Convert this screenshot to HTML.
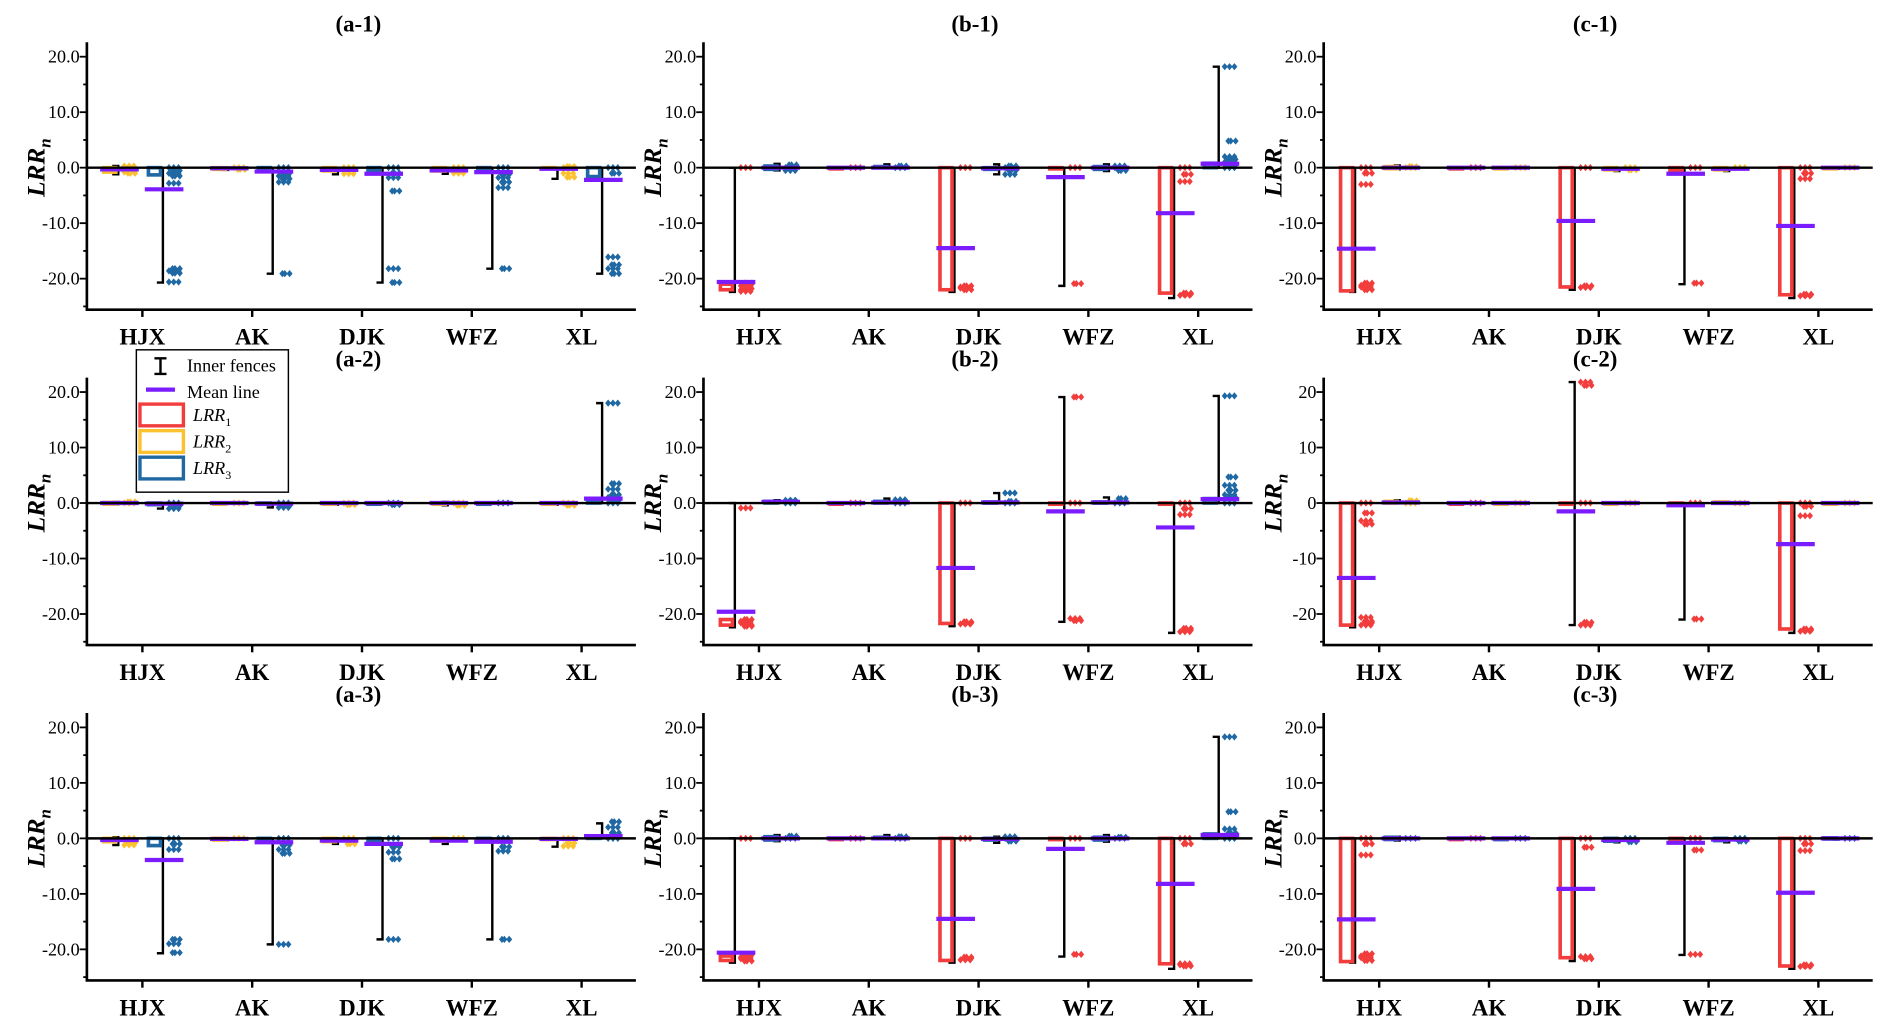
<!DOCTYPE html>
<html><head><meta charset="utf-8"><style>
html,body{margin:0;padding:0;background:#fff;}
svg{display:block;font-family:"Liberation Serif",serif;}
</style></head><body>
<svg id="fig" xmlns="http://www.w3.org/2000/svg" width="1892" height="1035" viewBox="0 0 1568 858" preserveAspectRatio="none"></svg>
<script>
const categories = ["HJX","AK","DJK","WFZ","XL"];
const yTicks = [20,10,0,-10,-20];
const yTickLabels = ["20.0","10.0","0.0","-10.0","-20.0"];
const yTickLabelsInt = ["20","10","0","-10","-20"];
// each entry: [q1, q3, lowerFence, upperFence, mean]
const a1L = [[-0.8,0,-1.2,0.3,-0.3],[-0.3,0,-0.4,0,-0.1],[-0.6,0,-1.2,0,-0.4],[-0.6,0,-1.1,0,-0.5],[-0.2,0,-2.0,0,-0.2]];
const a1R = [[-1.3,0,-20.7,0,-3.9],[-0.5,0,-19.1,0,-0.7],[-0.6,0,-20.7,0,-1.1],[-0.6,0,-18.2,0,-0.8],[-1.6,0,-19.1,0,-2.2]];
const a1Lout = [[0,-0.5,-0.8,-1.0,0.3],[0,-0.3],[0,-0.5,-1.1],[0,-0.7,-1.0],[0,0.2,-1.0,-1.7]];
const a1Rout = [[0,-0.5,-1,-1.5,-2.8,-18.2,-18.6,-19,-20.6],[0,-1,-1.5,-2,-2.6,-19.1],[0,-1,-1.8,-4.2,-18.2,-20.7],[0,-1.2,-1.8,-2.6,-3.6,-18.2],[0,-1,-16.1,-17.5,-18.2,-19.1]];
const a2L = [[-0.2,0.1,-0.2,0.2,0],[-0.1,0,-0.1,0,0],[-0.2,0,-0.3,0,0],[-0.2,0,-0.4,0.2,0],[-0.2,0,-0.3,0,0]];
const a2R = [[-0.3,0,-1,0,-0.1],[-0.2,0,-0.8,0,-0.1],[-0.1,0,-0.2,0,0],[-0.1,0,-0.1,0,0],[0,0.6,0,18,0.8]];
const a2Lout = [[0,0.2],[0],[0,-0.3],[0,-0.4],[0,-0.4]];
const a2Rout = [[0,-0.5,-1],[0,-0.5,-0.8],[0,-0.3],[0],[0,0.5,1,1.5,2.5,3.5,18]];
const a3L = [[-0.6,0,-1.2,0.2,-0.3],[-0.3,0,-0.3,0,-0.1],[-0.6,0,-1,0,-0.4],[-0.5,0,-1,0,-0.4],[-0.2,0,-1.5,0,-0.1]];
const a3R = [[-1.3,0,-20.7,0,-3.9],[-0.6,0,-19.1,0,-0.7],[-0.6,0,-18.2,0,-1],[-0.5,0,-18.2,0,-0.6],[0,0.3,0,2.7,0.4]];
const a3Lout = [[0,-0.8,-1.2],[0],[0,-1],[0],[0,-0.8,-1.4]];
const a3Rout = [[0,-1,-2,-18.2,-19,-20.6],[0,-1.2,-2,-2.7,-19.1],[0,-1.5,-2.5,-3.7,-18.2],[0,-1.5,-2.3,-18.2],[0,1,2,3]];
const b1L = [[-22,-21,-22.4,0,-20.6],[0,0,0,0,0],[-22,0,-22.4,0,-14.5],[0,0,-21.3,0,-1.7],[-22.6,0,-23.5,0,-8.2]];
const b1R = [[-0.3,0.3,-0.5,0.7,0],[0,0.2,0,0.6,0],[-0.3,0,-1.2,0.6,-0.1],[-0.3,0.2,-0.6,0.6,0],[0,0.8,0,18.2,0.7]];
const b1Lout = [[0,-20.8,-21.3,-21.8,-22.3,-21,-22],[0],[0,-21.3,-21.7,-22,-21.5],[0,-20.9],[0,-1.2,-2.5,-22.6,-23,-22.8]];
const b1Rout = [[0,0.5,-0.5,0.3],[0,0.3],[0,-0.5,-1.2,0.3],[0,-0.5,0.3],[0,0.5,1,1.5,2,4.8,18.2]];
const b2L = [[-22,-21,-22.4,0,-19.6],[0,0,0,0,0],[-21.7,0,-22.2,0,-11.7],[0,0,-21.4,19.1,-1.5],[0,0,-23.4,0,-4.4]];
const b2R = [[0,0.3,0,0.5,0.2],[0,0.3,0,0.8,0.1],[0,0.2,0,1.8,0.1],[0,0.2,0,1,0.1],[0,0.8,0,19.3,0.7]];
const b2Lout = [[-0.9,-21,-21.6,-22.2,-21.3,-22],[0],[0,-21.4,-21.8,-21.6],[0,19.1,-20.8,-21.2],[0,-1,-2.1,-22.6,-23.2,-22.9]];
const b2Rout = [[0,0.3,0.5],[0,0.3,0.6],[1.8,0.3,0],[0,0.8],[0,1,1.5,2.3,3.2,4.7,19.3]];
const b3L = [[-22,-21.2,-22.4,0,-20.6],[0,0,0,0,0],[-22,0,-22.4,0,-14.5],[0,0,-21.3,0,-1.9],[-22.6,0,-23.5,0,-8.2]];
const b3R = [[-0.3,0.3,-0.5,0.6,0],[0,0.2,0,0.6,0],[-0.3,0,-0.8,0.3,-0.1],[-0.3,0.2,-0.6,0.6,0],[0,0.8,0,18.3,0.6]];
const b3Lout = [[0,-21,-21.7,-22.1,-21.4],[0],[0,-21.4,-21.9,-21.6],[0,-20.9],[0,-1,-22.6,-23,-22.8]];
const b3Rout = [[0,0.4],[0,0.3],[0,-0.5,0.3],[0,0.2],[0,1,1.7,4.8,18.3]];
const c1L = [[-22.2,0,-22.4,0,-14.6],[0,0,0,0,0],[-21.5,0,-22,0,-9.6],[-0.5,0,-21,0,-1.1],[-22.9,0,-23.5,0,-10.5]];
const c1R = [[-0.2,0.2,-0.3,0.4,0],[0,0,0,0,0],[-0.4,0,-0.6,0,-0.2],[-0.4,0,-0.6,0,-0.2],[-0.1,0,-0.2,0,0]];
const c1Lout = [[0,-1,-3,-20.8,-21.5,-22,-21.2],[0],[0,-21.3,-21.6],[0,-20.8],[0,-1,-2,-22.8,-23.1,-22.9]];
const c1Rout = [[0,0.2],[0],[0,-0.4],[0],[0]];
const c2L = [[-22,0,-22.4,0,-13.5],[0,0,0,0,0],[0,0,-22,21.8,-1.5],[-0.3,0,-21,0,-0.4],[-22.7,0,-23.4,0,-7.4]];
const c2R = [[0,0.3,0,0.5,0.1],[0,0,0,0,0],[0,0,0,0,0],[0,0.2,0,0.2,0],[0,0,0,0,0]];
const c2Lout = [[0,-1.8,-3.2,-3.8,-20.6,-21.3,-22,-21.6],[0],[0,21.2,21.8,-21.5,-22],[0,-20.9],[0,-0.6,-2.3,-22.7,-23.1,-22.9]];
const c2Rout = [[0,0.4],[0],[0],[0],[0]];
const c3L = [[-22.2,0,-22.4,0,-14.6],[0,0,0,0,0],[-21.5,0,-22.1,0,-9.1],[-0.3,0,-21,0,-0.8],[-23,0,-23.5,0,-9.8]];
const c3R = [[-0.2,0.2,-0.4,0.3,0],[0,0,0,0,0],[-0.5,0,-0.7,0,-0.3],[-0.4,0,-0.7,0,-0.2],[-0.1,0.1,-0.2,0.1,0]];
const c3Lout = [[0,-1,-3,-20.8,-21.5,-22,-21.2],[0],[0,-1.6,-21.3,-21.7],[0,-2.1,-20.9],[0,-1,-2.2,-22.8,-23.1,-22.9]];
const c3Rout = [[0],[0],[0,-0.6],[0,-0.5],[0]];

const RED="#f23d3d", YEL="#fcc12f", BLU="#1f68a3", PUR="#7b1cff";
const NS="http://www.w3.org/2000/svg";
const svg=document.getElementById('fig');
function mk(tag,attrs,parent){const e=document.createElementNS(NS,tag);for(const k in attrs)e.setAttribute(k,attrs[k]);(parent||svg).appendChild(e);return e;}

const colX=[72,583,1097], rowZero=[139,417,695];
const panels=[
 {id:"a-1",c:0,r:0,L:a1L,R:a1R,Lo:a1Lout,Ro:a1Rout,lc:YEL,rc:BLU},
 {id:"a-2",c:0,r:1,L:a2L,R:a2R,Lo:a2Lout,Ro:a2Rout,lc:YEL,rc:BLU},
 {id:"a-3",c:0,r:2,L:a3L,R:a3R,Lo:a3Lout,Ro:a3Rout,lc:YEL,rc:BLU},
 {id:"b-1",c:1,r:0,L:b1L,R:b1R,Lo:b1Lout,Ro:b1Rout,lc:RED,rc:BLU},
 {id:"b-2",c:1,r:1,L:b2L,R:b2R,Lo:b2Lout,Ro:b2Rout,lc:RED,rc:BLU},
 {id:"b-3",c:1,r:2,L:b3L,R:b3R,Lo:b3Lout,Ro:b3Rout,lc:RED,rc:BLU},
 {id:"c-1",c:2,r:0,L:c1L,R:c1R,Lo:c1Lout,Ro:c1Rout,lc:RED,rc:YEL},
 {id:"c-2",c:2,r:1,L:c2L,R:c2R,Lo:c2Lout,Ro:c2Rout,lc:RED,rc:YEL,intLabels:true},
 {id:"c-3",c:2,r:2,L:c3L,R:c3R,Lo:c3Lout,Ro:c3Rout,lc:RED,rc:BLU}
];
const PX=4.6;
function drawSeries(g,w,y,st,outs,col){
  const [q1,q3,lo,hi,mean]=st;
  const wl=mk('path',{d:`M${w-5},${y(hi)}H${w}V${y(lo)}H${w-5}`,fill:'none',stroke:'#000','stroke-width':2},g);
  
  
  const top=Math.min(y(q1),y(q3)), h=Math.max(Math.abs(y(q1)-y(q3)),1);
  const bx=mk('rect',{x:w-12,y:top,width:10,height:h,fill:'none',stroke:col,'stroke-width':3},g);
  
  
  outs.forEach((v,i)=>{
    const cy=y(v);
    [0,1,2].forEach(k=>{
      const cx=w+5+((i*5+k*4)%10);
      const d=mk('path',{d:`M${cx},${cy-3}L${cx+2.5},${cy}L${cx},${cy+3}L${cx-2.5},${cy}Z`,fill:col},g);
      
      
    });
  });
  const ml=mk('line',{x1:w-15,x2:w+17,y1:y(mean),y2:y(mean),stroke:PUR,'stroke-width':3.5},g);
  
  
}
panels.forEach(p=>{
  const x0=colX[p.c], z=rowZero[p.r], xr=x0+455;
  const y=v=>z-v*PX;
  const g=mk('g',{});
  
  
  const t=mk('text',{x:x0+225,y:z-113,'text-anchor':'middle','font-size':19,'font-weight':'bold'},g);
  t.textContent='('+p.id+')';
  
  
  const yl=mk('text',{transform:`translate(${x0-35},${z}) rotate(-90)`,'text-anchor':'middle','font-size':21,'font-weight':'bold','font-style':'italic'},g);
  yl.innerHTML='LRR<tspan font-size="14" dy="5">n</tspan>';
  
  
  for(let v=-25;v<=20;v+=5){ if(v%10!==0) mk('line',{x1:x0-3,x2:x0,y1:y(v),y2:y(v),stroke:'#000','stroke-width':1.5},g); }
  yTicks.forEach((v,i)=>{
    mk('line',{x1:x0-6,x2:x0,y1:y(v),y2:y(v),stroke:'#000','stroke-width':1.5},g);
    const tl=mk('text',{x:x0-6,y:y(v)+5,'text-anchor':'end','font-size':15},g);
    tl.textContent=p.intLabels?yTickLabelsInt[i]:yTickLabels[i];
    
    
  });
  const ax=mk('path',{d:`M${x0},${y(22.6)}V${y(-25.6)}H${xr}`,fill:'none',stroke:'#000','stroke-width':2.2},g);
  
  
  categories.forEach((c,i)=>{
    const cx=x0+46+i*91;
    mk('line',{x1:cx,x2:cx,y1:y(-25.6),y2:y(-25.6)+6,stroke:'#000','stroke-width':2},g);
    const cl=mk('text',{x:cx,y:y(-25.6)+29,'text-anchor':'middle','font-size':19,'font-weight':'bold'},g);
    cl.textContent=c;
    
    
    drawSeries(g,cx-20,y,p.L[i],p.Lo[i],p.lc);
    drawSeries(g,cx+17,y,p.R[i],p.Ro[i],p.rc);
  });
  const zl=mk('line',{x1:x0,x2:xr,y1:z,y2:z,stroke:'#000','stroke-width':2},g);
  
  
});
const lg=mk('g',{});


mk('rect',{x:113,y:290,width:126,height:118,fill:'#fff',stroke:'#000','stroke-width':1.2},lg);
mk('path',{d:'M128,297H138M133,297V310M128,310H138',stroke:'#000','stroke-width':2,fill:'none'},lg);
mk('line',{x1:121,x2:145,y1:323,y2:323,stroke:PUR,'stroke-width':3.5},lg);
const legItems=[["Inner fences",308],["Mean line",330]];
legItems.forEach(([t,yy])=>{const e=mk('text',{x:155,y:yy,'font-size':15},lg);e.textContent=t;});
[[RED,"1",339],[YEL,"2",361],[BLU,"3",383]].forEach(([c,n,yy])=>{
  mk('rect',{x:116,y:yy-4,width:36,height:18,fill:'none',stroke:c,'stroke-width':2.8},lg);
  const e=mk('text',{x:160,y:yy+10,'font-size':15,'font-style':'italic'},lg);
  e.innerHTML='LRR<tspan font-size="10" dy="4" font-style="normal">'+n+'</tspan>';
  
  
});
</script>
</body></html>
